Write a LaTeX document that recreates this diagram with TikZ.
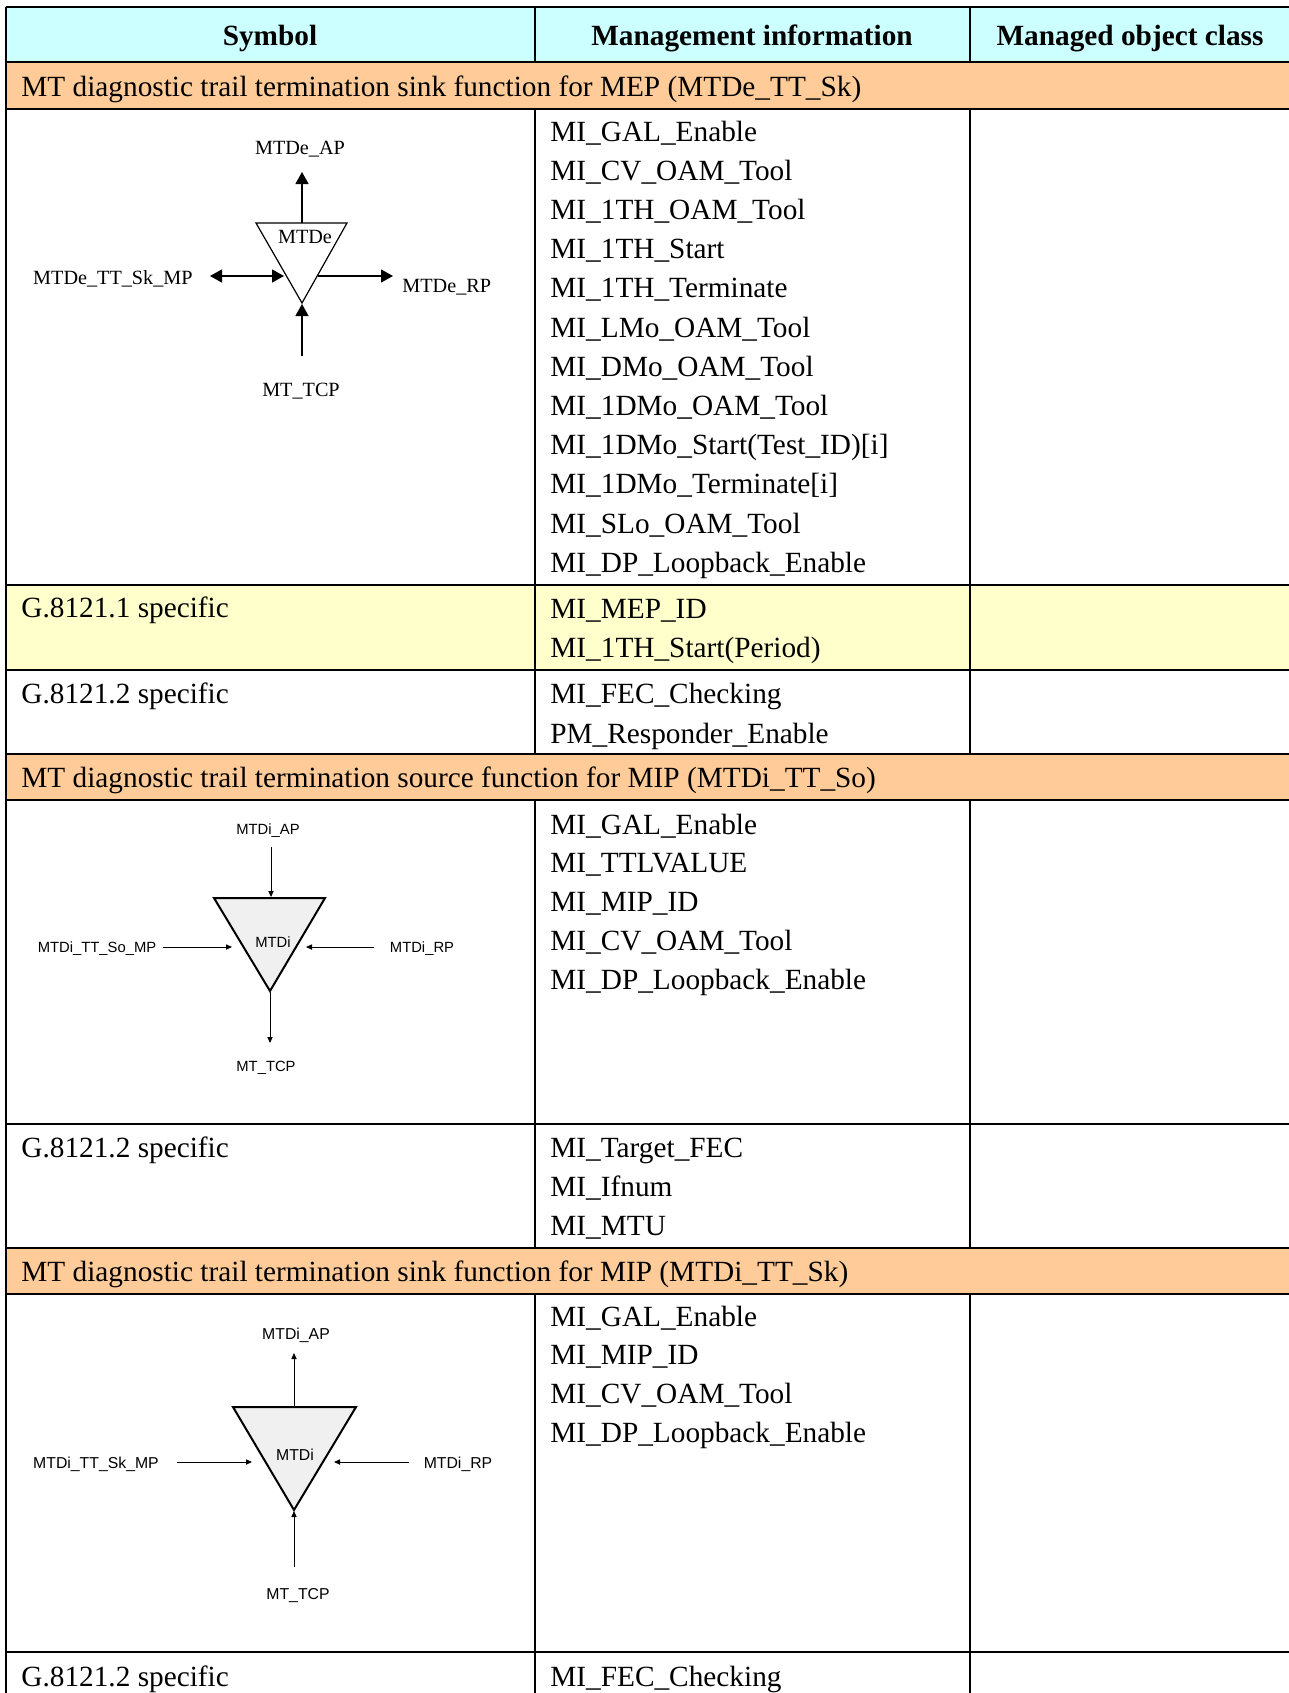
\documentclass[tikz,border=0pt]{standalone}
\usepackage{fontspec}
\setmainfont{Liberation Serif}
\setsansfont{Liberation Sans}
\usetikzlibrary{arrows.meta}
\definecolor{headcyan}{HTML}{CCFFFF}
\definecolor{bandorange}{HTML}{FFCC99}
\definecolor{bandyellow}{HTML}{FFFFCC}
\definecolor{trigray}{HTML}{F0F0F0}
\begin{document}
\begin{tikzpicture}[x=0.5pt,y=-0.5pt,
        cell/.style={anchor=base west,inner sep=0pt,font=\fontsize{14.65}{17}\selectfont},
        head/.style={anchor=base,inner sep=0pt,font=\fontsize{14.65}{17}\selectfont\bfseries},
        plbl/.style={anchor=base,inner sep=0pt,font=\fontsize{10.1}{12}\selectfont},
        solbl/.style={anchor=base,inner sep=0pt,font=\sffamily\fontsize{7.4}{9}\selectfont},
        sklbl/.style={anchor=base,inner sep=0pt,font=\sffamily\fontsize{7.9}{9}\selectfont},
        bigtip/.style={line width=0.6pt,-{Triangle[length=6pt,width=6.5pt]}},
        bigtips/.style={line width=0.6pt,{Triangle[length=6pt,width=6.5pt]}-{Triangle[length=6pt,width=6.5pt]}},
        smalltip/.style={line width=0.5pt,-{Triangle[length=3pt,width=2.6pt]}},
        rule/.style={line width=1.1pt}]
        \useasboundingbox (0,0) rectangle (1289,1693);
        %% Bands
        \fill[headcyan]   (6,7)    rectangle (1295,62);
        \fill[bandorange] (6,62)   rectangle (1295,109);
        \fill[bandyellow] (6,585)  rectangle (1295,670);
        \fill[bandorange] (6,754)  rectangle (1295,800);
        \fill[bandorange] (6,1248) rectangle (1295,1294);
        %% Grid
        \foreach \r in {7,62,109,585,670,754,800,1124,1248,1294,1652}
            \draw[rule] (5.5,\r) -- (1295,\r);
        \draw[rule] (6,6.5) -- (6,1700);
        \foreach \c in {535,970} {
            \draw[rule] (\c,7)    -- (\c,62);
            \draw[rule] (\c,109)  -- (\c,754);
            \draw[rule] (\c,800)  -- (\c,1248);
            \draw[rule] (\c,1294) -- (\c,1700);
        }
        %% Headings
        \node[head] (hdsym)   at (270,45)  {Symbol};
        \node[head] (hdinfo)  at (752,45)  {Management information};
        \node[head] (hdclass) at (1130,45) {Managed object class};
        \node[cell] (band1) at (21,96)   {MT diagnostic trail termination sink function for MEP (MTDe\_TT\_Sk)};
        \node[cell] (band2) at (21,787)  {MT diagnostic trail termination source function for MIP (MTDi\_TT\_So)};
        \node[cell] (band3) at (21,1281) {MT diagnostic trail termination sink function for MIP (MTDi\_TT\_Sk)};
        \node[cell] (spec1) at (21,617)  {G.8121.1 specific};
        \node[cell] (spec2) at (21,703)  {G.8121.2 specific};
        \node[cell] (spec3) at (21,1157) {G.8121.2 specific};
        \node[cell] (spec4) at (21,1686) {G.8121.2 specific};
        %% Management information
        \foreach \t [count=\i from 0] in {MI\_GAL\_Enable, MI\_CV\_OAM\_Tool, MI\_1TH\_OAM\_Tool,
                MI\_1TH\_Start, MI\_1TH\_Terminate, MI\_LMo\_OAM\_Tool, MI\_DMo\_OAM\_Tool,
                MI\_1DMo\_OAM\_Tool, MI\_1DMo\_Start(Test\_ID)[i], MI\_1DMo\_Terminate[i],
                MI\_SLo\_OAM\_Tool, MI\_DP\_Loopback\_Enable}
            \node[cell] (mep\i) at (550,{141+39.2*\i}) {\t};
        \node[cell] (mepid)  at (550,618) {MI\_MEP\_ID};
        \node[cell] (period) at (550,657) {MI\_1TH\_Start(Period)};
        \node[cell] (fec1)   at (550,703) {MI\_FEC\_Checking};
        \node[cell] (resp)   at (550,743) {PM\_Responder\_Enable};
        \foreach \t [count=\i from 0] in {MI\_GAL\_Enable, MI\_TTLVALUE, MI\_MIP\_ID,
                MI\_CV\_OAM\_Tool, MI\_DP\_Loopback\_Enable}
            \node[cell] (so\i) at (550,{834+38.9*\i}) {\t};
        \foreach \t [count=\i from 0] in {MI\_Target\_FEC, MI\_Ifnum, MI\_MTU}
            \node[cell] (tgt\i) at (550,{1157+39.2*\i}) {\t};
        \foreach \t [count=\i from 0] in {MI\_GAL\_Enable, MI\_MIP\_ID, MI\_CV\_OAM\_Tool,
                MI\_DP\_Loopback\_Enable}
            \node[cell] (sk\i) at (550,{1326+38.9*\i}) {\t};
        \node[cell] (fec2) at (550,1686) {MI\_FEC\_Checking};
        %% MTDe_TT_Sk symbol
        \draw[line width=0.6pt,line join=miter] (256,223) -- (347,223) -- (302,303) -- cycle;
        \node[plbl] (mtde)    at (305,243) {MTDe};
        \node[plbl] (mtdeap)  at (300,154) {MTDe\_AP};
        \node[plbl,anchor=base east] (mtdemp) at (193,284) {MTDe\_TT\_Sk\_MP};
        \node[plbl,anchor=base west] (mtderp) at (402,292) {MTDe\_RP};
        \node[plbl] (mtdetcp) at (301,396) {MT\_TCP};
        \coordinate (deTop) at (302,223);
        \coordinate (deAP)  at (302,172);
        \coordinate (deMP)  at (210,276);
        \coordinate (deL)   at (284,276);
        \coordinate (deR)   at (318,276);
        \coordinate (deRP)  at (393,276);
        \coordinate (deTCP) at (302,356);
        \coordinate (deBot) at (302,304);
        \draw[bigtip]  (deTop) -- (deAP);
        \draw[bigtips] (deMP)  -- (deL);
        \draw[bigtip]  (deR)   -- (deRP);
        \draw[bigtip]  (deTCP) -- (deBot);
        %% MTDi_TT_So symbol
        \filldraw[fill=trigray,line width=1pt,line join=miter] (214,898) -- (325,898) -- (270,991) -- cycle;
        \node[solbl] (somtdi) at (273,947)  {MTDi};
        \node[solbl] (soap)   at (268,834)  {MTDi\_AP};
        \node[solbl] (somp)   at (97,952)   {MTDi\_TT\_So\_MP};
        \node[solbl] (sorp)   at (422,952)  {MTDi\_RP};
        \node[solbl] (sotcp)  at (266,1071) {MT\_TCP};
        \coordinate (soAP)  at (271,847);
        \coordinate (soTop) at (271,897);
        \coordinate (soMP)  at (163,947);
        \coordinate (soL)   at (232,947);
        \coordinate (soRP)  at (374,947);
        \coordinate (soR)   at (306,947);
        \coordinate (soBot) at (270,992);
        \coordinate (soTCP) at (270,1043);
        \draw[smalltip] (soAP)  -- (soTop);
        \draw[smalltip] (soMP)  -- (soL);
        \draw[smalltip] (soRP)  -- (soR);
        \draw[smalltip] (soBot) -- (soTCP);
        %% MTDi_TT_Sk symbol
        \filldraw[fill=trigray,line width=1pt,line join=miter] (233,1407) -- (356,1407) -- (294,1510) -- cycle;
        \node[sklbl] (skmtdi) at (295,1460) {MTDi};
        \node[sklbl] (skap)   at (296,1339) {MTDi\_AP};
        \node[sklbl] (skmp)   at (96,1468)  {MTDi\_TT\_Sk\_MP};
        \node[sklbl] (skrp)   at (458,1468) {MTDi\_RP};
        \node[sklbl] (sktcp)  at (298,1599) {MT\_TCP};
        \coordinate (skTop) at (294,1407);
        \coordinate (skAP)  at (294,1353);
        \coordinate (skMP)  at (177,1462);
        \coordinate (skL)   at (252,1462);
        \coordinate (skRP)  at (409,1462);
        \coordinate (skR)   at (334,1462);
        \coordinate (skTCP) at (294,1567);
        \coordinate (skBot) at (294,1511);
        \draw[smalltip] (skTop) -- (skAP);
        \draw[smalltip] (skMP)  -- (skL);
        \draw[smalltip] (skRP)  -- (skR);
        \draw[smalltip] (skTCP) -- (skBot);
    \end{tikzpicture}
\end{document}
